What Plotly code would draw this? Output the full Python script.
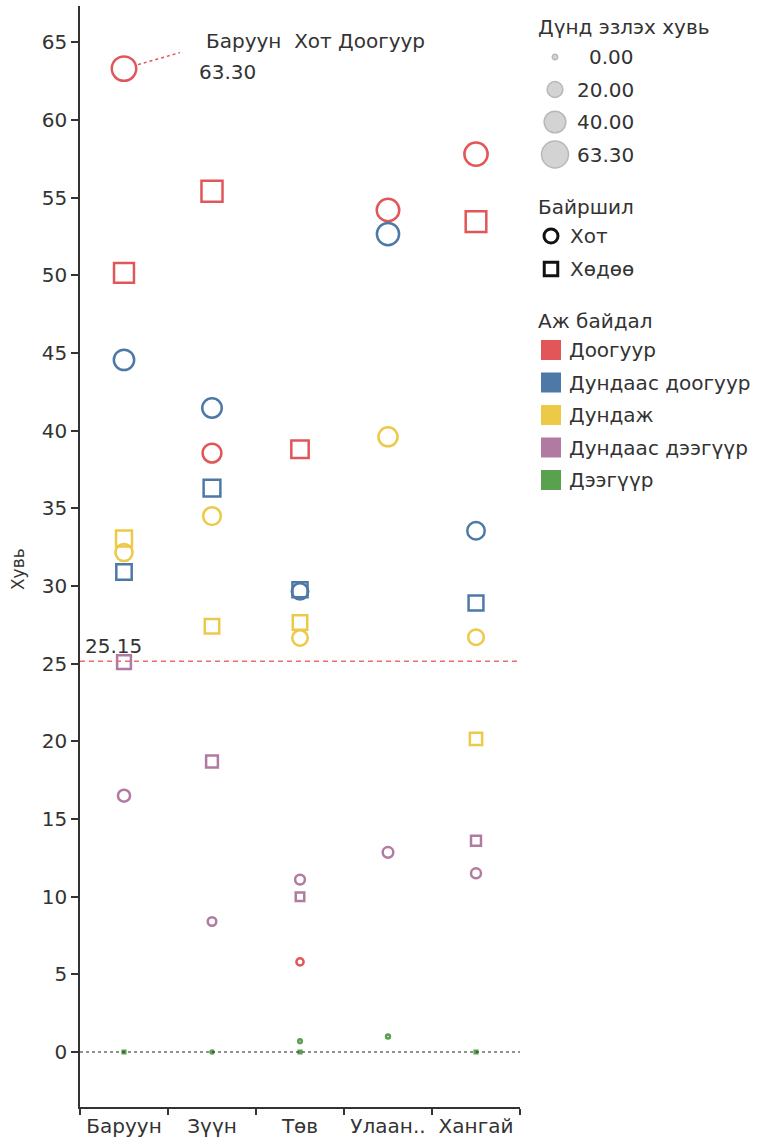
import math
import plotly.graph_objects as go

# ---------------- data ----------------
regions = ["Баруун", "Зүүн", "Төв", "Улаан..", "Хангай"]
levels = ["Доогуур", "Дундаас доогуур", "Дундаж", "Дундаас дээгүүр", "Дээгүүр"]
level_colors = ["#e15759", "#4e79a7", "#edc948", "#b07aa1", "#59a14f"]

# Хот (urban) values per level, ordered by regions
hot_dooguur = [63.30, 38.55, 5.80, 54.20, 57.80]
hot_dundaas_doogur = [44.55, 41.45, 29.65, 52.65, 33.55]
hot_dundaj = [32.15, 34.50, 26.65, 39.60, 26.70]
hot_dundaas_deegur = [16.50, 8.40, 11.10, 12.85, 11.50]
hot_deegur = [None, 0.00, 0.70, 1.00, None]

# Хөдөө (rural) values per level, ordered by regions
hudoo_dooguur = [50.15, 55.40, 38.80, None, 53.45]
hudoo_dundaas_doogur = [30.90, 36.30, 29.75, None, 28.90]
hudoo_dundaj = [33.05, 27.40, 27.65, None, 20.15]
hudoo_dundaas_deegur = [25.10, 18.70, 10.00, None, 13.60]
hudoo_deegur = [0.00, None, 0.00, None, 0.00]

locations = ["Хот", "Хөдөө"]
series = {
    "Хөдөө": [hudoo_dooguur, hudoo_dundaas_doogur, hudoo_dundaj, hudoo_dundaas_deegur, hudoo_deegur],
    "Хот": [hot_dooguur, hot_dundaas_doogur, hot_dundaj, hot_dundaas_deegur, hot_deegur],
}

reference_value = 25.15
size_legend_values = [0.00, 20.00, 40.00, 63.30]
size_legend_labels = ["0.00", "20.00", "40.00", "63.30"]
size_legend_title = "Дүнд эзлэх хувь"
location_legend_title = "Байршил"
level_legend_title = "Аж байдал"
y_title = "Хувь"
highlight = ("Баруун", "Хот", "Доогуур", 63.30)

# ---------------- styling ----------------
FONT = "DejaVu Sans"
TXT = "#333333"
FS = 20
LW = 2.5


def diam(v):
    return math.sqrt(30 + 11.0 * v)


def circ_size(v):
    return max(diam(v) - LW, 2)


def sq_size(v):
    return max(0.93 * diam(v) - LW, 2)


fig = go.Figure()

for loc in ["Хөдөө", "Хот"]:
    symbol = "square-open" if loc == "Хөдөө" else "circle-open"
    for li, lvl in enumerate(levels):
        vals = series[loc][li]
        xs = [r for r, v in zip(regions, vals) if v is not None]
        ys = [v for v in vals if v is not None]
        sizes = [(sq_size(v) if loc == "Хөдөө" else circ_size(v)) for v in ys]
        fig.add_trace(go.Scatter(
            x=xs, y=ys, mode="markers", showlegend=False,
            marker=dict(symbol=symbol, size=sizes, color=level_colors[li], opacity=1,
                        line=dict(width=LW, color=level_colors[li])),
            hovertemplate=f"{loc} {lvl}<br>%{{x}}: %{{y:.2f}}<extra></extra>",
        ))

# ---------------- main axes ----------------
L, T, B = 80, 6, 32
W, H = 757, 1139
plot_w = W - L
main_right = 520
dom_main = (main_right - L) / plot_w

fig.update_layout(
    width=W, height=H,
    margin=dict(l=L, r=0, t=T, b=B, pad=0),
    paper_bgcolor="white", plot_bgcolor="white",
    font=dict(family=FONT, size=FS, color=TXT),
    showlegend=False,
    xaxis=dict(domain=[0, dom_main], type="category", categoryarray=regions,
               categoryorder="array", range=[-0.5, len(regions) - 0.5],
               showgrid=False, zeroline=False, showline=True, linecolor="#333333",
               linewidth=1.5, ticks="outside", tickson="boundaries", ticklen=6,
               tickcolor="#333333", tickwidth=1.5, tickfont=dict(size=FS, color=TXT)),
    yaxis=dict(range=[-3.54, 67.33], tick0=0, dtick=5, showgrid=False,
               zeroline=False, showline=True, linecolor="#333333", linewidth=1.5,
               ticks="outside", ticklen=7, tickcolor="#333333", tickwidth=1.5,
               tickfont=dict(size=FS, color=TXT)),
    xaxis2=dict(domain=[dom_main, 1], range=[main_right, W], visible=False,
                fixedrange=True),
    yaxis2=dict(domain=[0, 1], range=[H - B, T], visible=False, fixedrange=True,
                anchor="x2"),
)

# zero line (dotted) and reference line (dashed)
fig.add_shape(type="line", xref="x domain", yref="y", x0=0, x1=1, y0=0, y1=0,
              line=dict(color="#222222", width=1.2, dash="dot"))
fig.add_shape(type="line", xref="x domain", yref="y", x0=0, x1=1,
              y0=reference_value, y1=reference_value,
              line=dict(color="#eb6b70", width=1.6, dash="5px,4px"))
fig.add_annotation(xref="x domain", yref="y", x=0, y=reference_value,
                   text=f"{reference_value:.2f}", showarrow=False,
                   xanchor="left", yanchor="bottom", xshift=3, yshift=1,
                   font=dict(size=FS, color=TXT))

# y axis title
fig.add_annotation(xref="x domain", yref="y domain", x=0, y=0.4886,
                   text=y_title, textangle=-90, showarrow=False,
                   xanchor="center", yanchor="middle", xshift=-62,
                   font=dict(size=17, color=TXT))

# highlight annotation
h_reg, h_loc, h_lvl, h_val = highlight
fig.add_annotation(x=h_reg, y=h_val, xref="x", yref="y",
                   text=f"{h_reg}  {h_loc} {h_lvl}", showarrow=False,
                   xanchor="left", yanchor="middle", xshift=80, yshift=28,
                   font=dict(size=FS, color=TXT))
fig.add_annotation(x=h_reg, y=h_val, xref="x", yref="y",
                   text=f"{h_val:.2f}", showarrow=False,
                   xanchor="left", yanchor="middle", xshift=73, yshift=-3,
                   font=dict(size=FS, color=TXT))
ppu = (H - B - T) / (67.33 + 3.54)
fig.add_shape(type="line", xref="x", yref="y",
              x0=0 + 14 / 88, x1=0 + 56 / 88,
              y0=h_val + 4 / ppu, y1=h_val + 16 / ppu,
              line=dict(color="#e15759", width=1.5, dash="dot"))

# ---------------- legend (drawn on pixel-space overlay axes) ----------------
title_x = 536
# size legend
fig.add_annotation(xref="x2", yref="y2", x=title_x, y=27, text=size_legend_title,
                   showarrow=False, xanchor="left", yanchor="middle",
                   font=dict(size=FS, color=TXT))
size_y = [57 + 32.5 * i for i in range(len(size_legend_values))]
fig.add_trace(go.Scatter(
    x=[555] * len(size_legend_values), y=size_y, xaxis="x2", yaxis="y2",
    mode="markers", showlegend=False, hoverinfo="skip",
    marker=dict(symbol="circle", size=[diam(v) for v in size_legend_values],
                color="#d3d3d3", opacity=1, line=dict(color="#b8b8b8", width=1.5)),
))
for yy, lab in zip(size_y, size_legend_labels):
    fig.add_annotation(xref="x2", yref="y2", x=636, y=yy, text=lab, showarrow=False,
                       xanchor="right", yanchor="middle", font=dict(size=FS, color=TXT))

# location legend
fig.add_annotation(xref="x2", yref="y2", x=title_x, y=207, text=location_legend_title,
                   showarrow=False, xanchor="left", yanchor="middle",
                   font=dict(size=FS, color=TXT))
loc_y = [236 + 33 * i for i in range(len(locations))]
fig.add_trace(go.Scatter(
    x=[551] * len(locations), y=loc_y, xaxis="x2", yaxis="y2",
    mode="markers", showlegend=False, hoverinfo="skip",
    marker=dict(symbol=["circle-open", "square-open"], size=[14, 13.5], opacity=1,
                color="#111111", line=dict(color="#111111", width=3)),
))
for yy, lab in zip(loc_y, locations):
    fig.add_annotation(xref="x2", yref="y2", x=568, y=yy, text=lab, showarrow=False,
                       xanchor="left", yanchor="middle", font=dict(size=FS, color=TXT))

# level legend
fig.add_annotation(xref="x2", yref="y2", x=title_x, y=321, text=level_legend_title,
                   showarrow=False, xanchor="left", yanchor="middle",
                   font=dict(size=FS, color=TXT))
lvl_y = [350 + 32.5 * i for i in range(len(levels))]
fig.add_trace(go.Scatter(
    x=[551] * len(levels), y=lvl_y, xaxis="x2", yaxis="y2",
    mode="markers", showlegend=False, hoverinfo="skip",
    marker=dict(symbol="square", size=20, color=level_colors, opacity=1,
                line=dict(width=0)),
))
for yy, lab in zip(lvl_y, levels):
    fig.add_annotation(xref="x2", yref="y2", x=567, y=yy, text=lab, showarrow=False,
                       xanchor="left", yanchor="middle", font=dict(size=FS, color=TXT))

fig.write_html("out.html", config={"displayModeBar": False},
               post_script="document.body.style.margin='0px';document.body.style.overflow='hidden';")
